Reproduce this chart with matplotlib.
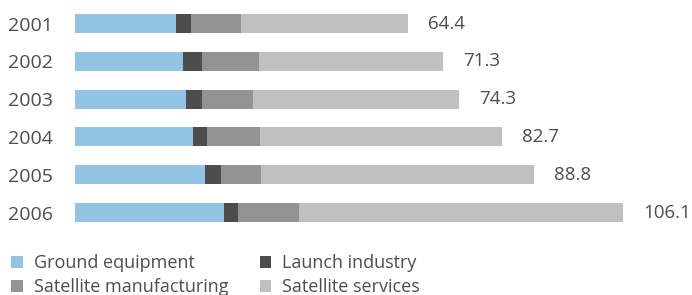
import matplotlib
matplotlib.use("Agg")
import matplotlib.pyplot as plt
from matplotlib.patches import Patch

plt.rcParams['font.family'] = ['Open Sans', 'DejaVu Sans']

years = ['2001', '2002', '2003', '2004', '2005', '2006']
ground = [19.5, 20.9, 21.5, 22.8, 25.2, 28.8]
launch = [2.9, 3.7, 3.1, 2.7, 3.1, 2.7]
manufacturing = [9.7, 11.0, 9.9, 10.3, 7.7, 11.8]
totals = [64.4, 71.3, 74.3, 82.7, 88.8, 106.1]
services = [t - g - l - m for t, g, l, m in zip(totals, ground, launch, manufacturing)]

series = [
    ('Ground equipment', ground, '#93c4e5'),
    ('Launch industry', launch, '#4d4d4d'),
    ('Satellite manufacturing', manufacturing, '#939393'),
    ('Satellite services', services, '#c0c0c0'),
]
text_color = '#4d4d4d'

W, H = 692, 295
fig = plt.figure(figsize=(W / 100, H / 100), dpi=100)
# axes: x from pixel 75 to right edge, y from top to pixel 240
ax = fig.add_axes([75 / W, 1 - 240 / H, (W - 75) / W, 240 / H])

px_per_unit = 5.167
spacing = 37.8
ax.set_xlim(0, (W - 75) / px_per_unit)
ax.set_ylim((240 - 23.5) / spacing, -23.5 / spacing)

ypos = list(range(len(years)))
left = [0.0] * len(years)
for name, vals, color in series:
    ax.barh(ypos, vals, left=left, height=0.5, color=color, linewidth=0)
    left = [a + b for a, b in zip(left, vals)]

for y, t in zip(ypos, totals):
    ax.text(t + 20 / px_per_unit, y, f'{t:.1f}', va='center', ha='left',
            fontsize=13.5, color=text_color)

ax.set_yticks(ypos)
ax.set_yticklabels(years, fontsize=14, color=text_color)
ax.tick_params(axis='y', length=0, pad=16)
ax.set_xticks([])
for s in ax.spines.values():
    s.set_visible(False)

# legend is filled column by column, so order handles for row-wise reading
handles = [Patch(facecolor=c, edgecolor='none', label=n) for n, _, c in series]
handles = [handles[0], handles[2], handles[1], handles[3]]
fig.legend(handles=handles, ncol=2, loc='upper left',
           bbox_to_anchor=(11 / W, 1 - 254 / H), frameon=False,
           fontsize=13, labelcolor=text_color,
           handlelength=0.65, handleheight=0.65, handletextpad=0.6,
           columnspacing=1.75, labelspacing=0.35, borderaxespad=0, borderpad=0)

fig.savefig('out.png', dpi=100)
